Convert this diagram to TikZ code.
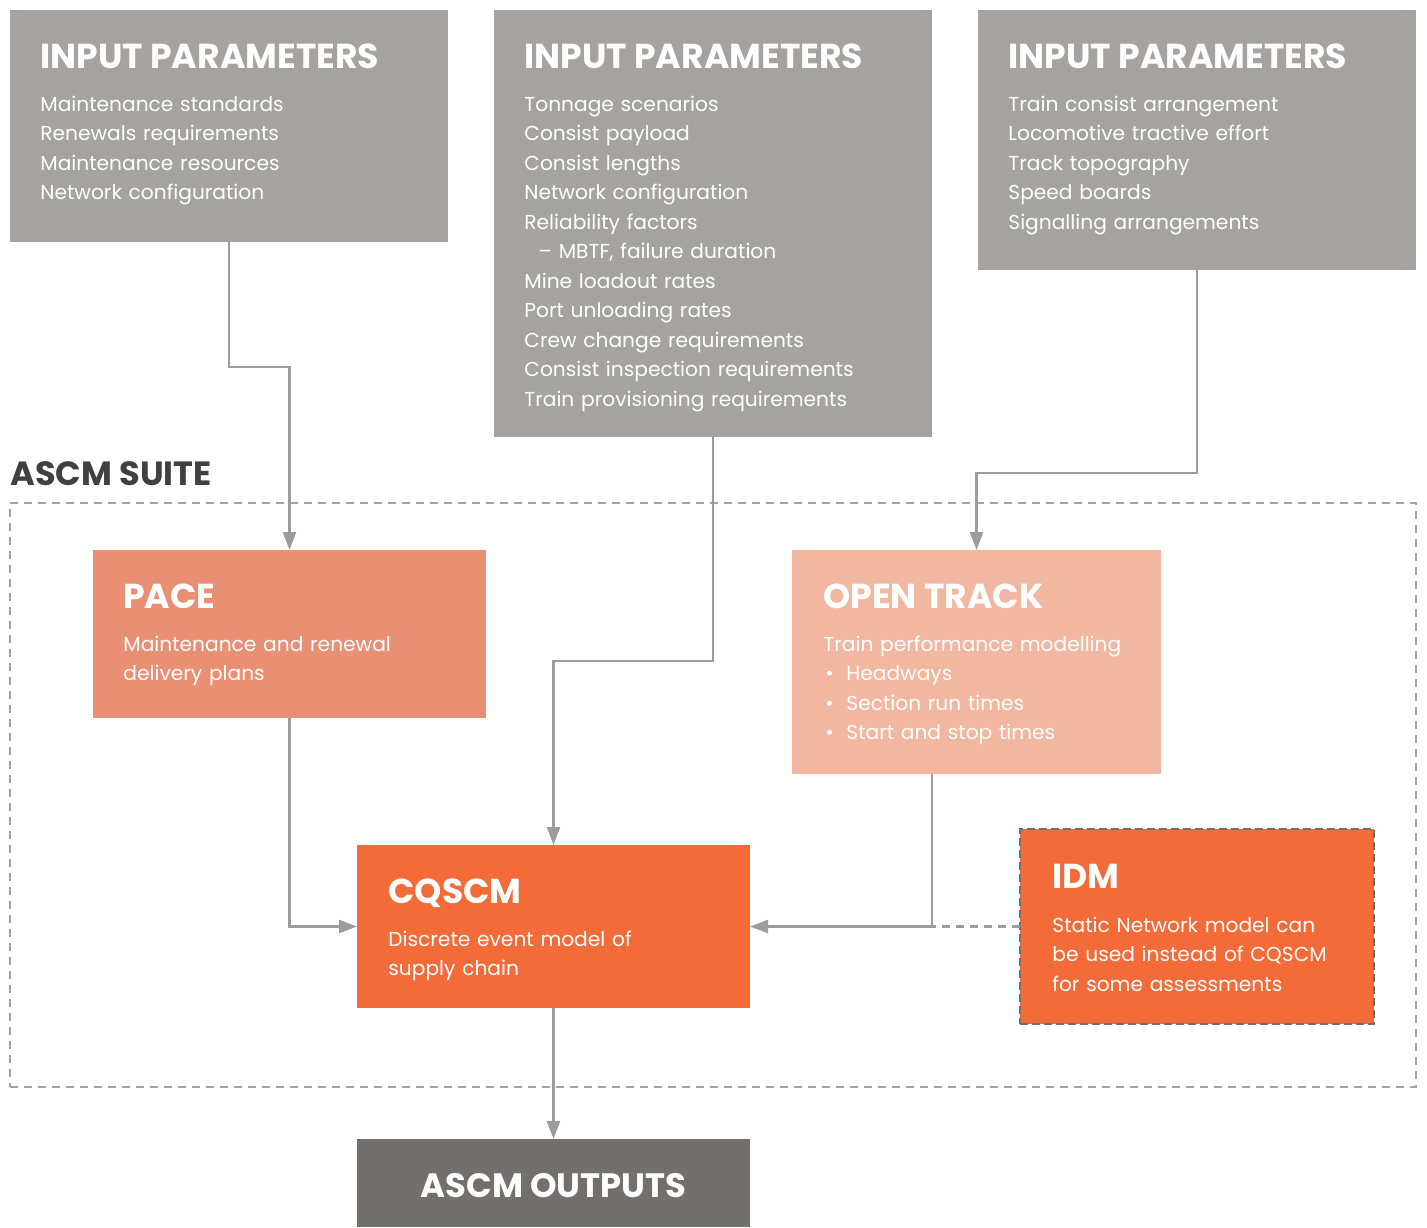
\documentclass[tikz,border=0pt]{standalone}
\usepackage{fontspec}
\setmainfont{Poppins}
\usetikzlibrary{positioning,fit,calc,arrows.meta}
\definecolor{ingray}{HTML}{A6A2A0}
\definecolor{pacecol}{HTML}{E98F74}
\definecolor{trackcol}{HTML}{F2B7A1}
\definecolor{cqcol}{HTML}{F26B38}
\definecolor{outcol}{HTML}{736F6D}
\definecolor{linegray}{HTML}{9C9C9C}
\definecolor{suitegray}{HTML}{A3A3A3}
\definecolor{darktext}{HTML}{404040}
\tikzset{dbox/.style={inner sep=0, outer sep=0, draw=none}}
\tikzset{dhead/.style={anchor=base west, inner sep=0, text=white, font=\fontsize{17.3pt}{20pt}\selectfont\bfseries}}
\tikzset{dtext/.style={anchor=base west, inner sep=0, text=white, align=left, text width=205pt, font=\fontsize{10.1pt}{14.75pt}\selectfont}}
\tikzset{arr/.style={draw=linegray, line width=1.3pt, -{Triangle[width=6.5pt,length=9pt]}}}
\tikzset{dline/.style={draw=linegray, line width=1.3pt, dash pattern=on 4pt off 3pt}}
\newcommand{\bul}{\makebox[11.5pt][l]{\hspace{1pt}•}}

\begin{document}
\begin{tikzpicture}[x=0.5pt, y=-0.5pt]
    \useasboundingbox (0,0) rectangle (1427,1227);
    % input boxes
    \node[dbox, fill=ingray, fit={(10,10) (448,242)}] (in1) {};
    \node[dbox, fill=ingray, fit={(494,10) (932,437)}] (in2) {};
    \node[dbox, fill=ingray, fit={(978,10) (1416,270)}] (in3) {};
    \node[dhead] (in1h) at (40,68) {INPUT PARAMETERS};
    \node[dhead] (in2h) at (524,68) {INPUT PARAMETERS};
    \node[dhead] (in3h) at (1008,68) {INPUT PARAMETERS};
    \node[dtext] (in1t) at (40,111) {Maintenance standards\\Renewals requirements\\Maintenance resources\\Network configuration};
    \node[dtext] (in2t) at (524,111) {Tonnage scenarios\\Consist payload\\Consist lengths\\Network configuration\\Reliability factors\\\hspace{7pt}– MBTF, failure duration\\Mine loadout rates\\Port unloading rates\\Crew change requirements\\Consist inspection requirements\\Train provisioning requirements};
    \node[dtext] (in3t) at (1008,111) {Train consist arrangement\\Locomotive tractive effort\\Track topography\\Speed boards\\Signalling arrangements};

    % suite
    \node[dbox, draw=suitegray, line width=1.3pt, dash pattern=on 4pt off 3pt, fit={(10,503) (1416,1087)}] (suite) {};
    \node[dhead, text=darktext, font=\fontsize{16.8pt}{20pt}\selectfont\bfseries] (suiteh) at (10,485) {ASCM SUITE};

    % models
    \node[dbox, fill=pacecol, fit={(93,550) (486,718)}] (pace) {};
    \node[dhead] (paceh) at (123,608) {PACE};
    \node[dtext] (pacet) at (123,651) {Maintenance and renewal\\delivery plans};

    \node[dbox, fill=trackcol, fit={(792,550) (1161,774)}] (otrack) {};
    \node[dhead] (otrackh) at (823,608) {OPEN TRACK};
    \node[dtext] (otrackt) at (823,651) {Train performance modelling\\\bul Headways\\\bul Section run times\\\bul Start and stop times};

    \node[dbox, fill=cqcol, fit={(357,845) (750,1008)}] (cqscm) {};
    \node[dhead] (cqscmh) at (388,903) {CQSCM};
    \node[dtext] (cqscmt) at (388,946) {Discrete event model of\\supply chain};

    \node[dbox, fill=cqcol, draw=outcol, line width=1.3pt, dash pattern=on 4pt off 2pt, fit={(1020,829) (1374,1024)}] (idm) {};
    \node[dhead] (idmh) at (1052,888) {IDM};
    \node[dtext] (idmt) at (1052,932) {Static Network model can\\be used instead of CQSCM\\for some assessments};

    \node[dbox, fill=outcol, fit={(357,1139) (750,1227)}] (outs) {};
    \node[dhead, anchor=base, font=\fontsize{16.9pt}{20pt}\selectfont\bfseries] (outsh) at (553.5,1197) {ASCM OUTPUTS};

    % connectors
    \draw[arr] (in1.south) -- (in1.south |- 0,367) -| (pace.north);
    \draw[arr] (in2.south) -- (in2.south |- 0,661) -| (cqscm.north);
    \draw[arr] (in3.south) -- (in3.south |- 0,473) -| (otrack.north);
    \draw[arr] (pace.south) |- (cqscm.west);
    \draw[arr] (otrack.south -| 932,0) |- (cqscm.east);
    \draw[dline] (idm.west) -- (idm.west -| 932,0);
    \draw[arr] (cqscm.south) -- (outs.north);
\end{tikzpicture}
\end{document}
